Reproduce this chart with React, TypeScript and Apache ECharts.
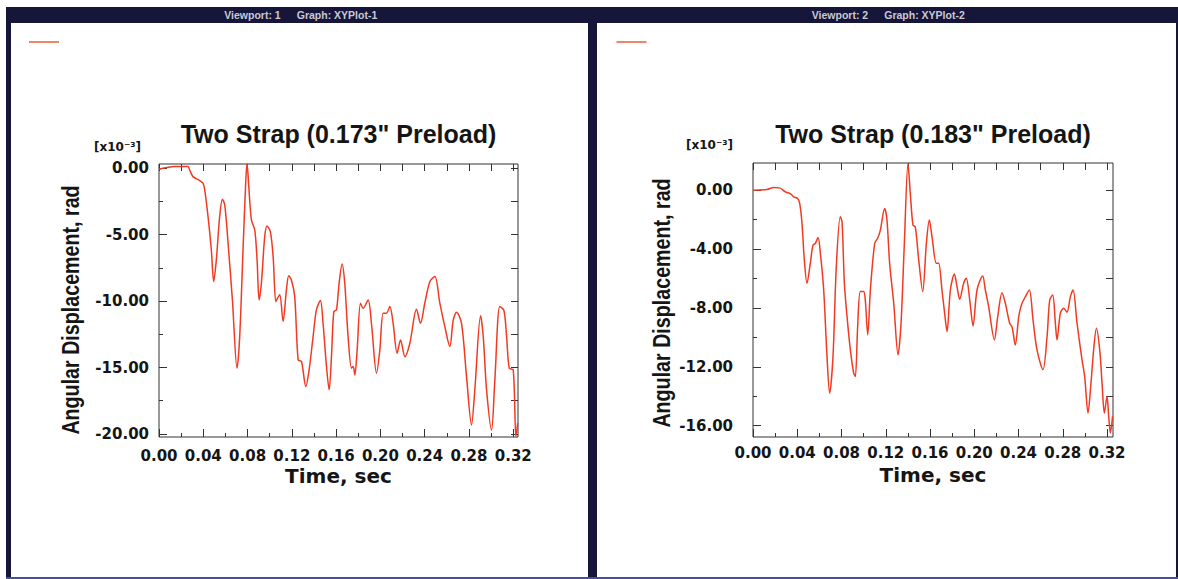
import React, { useEffect, useRef } from "react";
import * as echarts from "echarts";

// ---- Data (angles in x10^-3 rad) ----
const leftTime = [0, 0.0142, 0.0262, 0.0277, 0.0307, 0.0368, 0.0398, 0.0413, 0.0443, 0.0473, 0.0494, 0.0518, 0.0548, 0.0573, 0.0594, 0.0624, 0.0663, 0.0705, 0.0729, 0.0759, 0.0783, 0.0795, 0.0811, 0.0835, 0.0865, 0.0886, 0.0904, 0.0925, 0.0955, 0.0976, 0.1006, 0.1031, 0.1055, 0.107, 0.1091, 0.1121, 0.1151, 0.1172, 0.1196, 0.1226, 0.1257, 0.1287, 0.1326, 0.1356, 0.1392, 0.1422, 0.1458, 0.1482, 0.1513, 0.1537, 0.1558, 0.1579, 0.1603, 0.1627, 0.1654, 0.1678, 0.1708, 0.1739, 0.1754, 0.1769, 0.179, 0.182, 0.1844, 0.1889, 0.1919, 0.1965, 0.1995, 0.2025, 0.2055, 0.2085, 0.2115, 0.2151, 0.2182, 0.2221, 0.2266, 0.2326, 0.2362, 0.2401, 0.2447, 0.2492, 0.2537, 0.2582, 0.2627, 0.2658, 0.2688, 0.2733, 0.2778, 0.2823, 0.2853, 0.2905, 0.2929, 0.2959, 0.3004, 0.3034, 0.3079, 0.3116, 0.314, 0.3164, 0.32, 0.3224, 0.324];
const leftAngle = [-0.08, 0.13, 0.13, -0.13, -0.63, -0.93, -1.13, -1.63, -3.64, -6.15, -8.53, -6.9, -3.64, -2.33, -2.76, -5.65, -9.91, -15.05, -12.67, -6.15, -1.13, 0.38, -1.38, -3.89, -4.64, -6.9, -9.91, -8.66, -5.14, -4.34, -4.77, -6.65, -10.04, -9.79, -9.53, -11.54, -9.16, -8.1, -8.41, -9.66, -14.43, -14.55, -16.43, -15.18, -12.67, -10.66, -9.96, -11.67, -14.93, -16.68, -14.18, -10.79, -10.66, -8.66, -7.2, -8.66, -12.67, -15.05, -14.93, -15.56, -13.67, -10.16, -10.54, -9.91, -11.67, -15.43, -13.67, -10.91, -10.91, -10.41, -11.67, -13.92, -12.92, -14.18, -13.17, -10.61, -11.67, -10.16, -8.53, -8.15, -10.16, -11.92, -13.42, -11.42, -10.84, -11.67, -15.68, -19.32, -16.68, -11.11, -12.67, -16.68, -19.7, -15.93, -10.41, -10.71, -12.67, -15.05, -15.18, -20.2, -19.19];

const rightTime = [0, 0.0127, 0.0187, 0.0241, 0.0292, 0.0337, 0.0368, 0.0404, 0.0422, 0.0443, 0.0464, 0.0488, 0.0518, 0.0542, 0.0563, 0.0588, 0.0609, 0.0639, 0.0669, 0.0693, 0.0723, 0.0753, 0.0789, 0.0805, 0.0826, 0.085, 0.088, 0.091, 0.0925, 0.0946, 0.097, 0.1, 0.1015, 0.1037, 0.1061, 0.11, 0.113, 0.1151, 0.119, 0.1211, 0.1235, 0.1272, 0.1311, 0.1338, 0.1368, 0.1401, 0.1422, 0.1446, 0.1467, 0.1498, 0.1534, 0.1567, 0.1594, 0.1618, 0.1657, 0.1678, 0.1708, 0.1739, 0.1754, 0.1784, 0.182, 0.1844, 0.1868, 0.1904, 0.1928, 0.1959, 0.1989, 0.2025, 0.2076, 0.21, 0.213, 0.2182, 0.2212, 0.2251, 0.2281, 0.232, 0.2341, 0.2371, 0.2402, 0.2426, 0.2462, 0.2498, 0.2531, 0.2567, 0.2621, 0.2658, 0.2682, 0.2709, 0.2733, 0.2748, 0.2778, 0.2808, 0.2838, 0.2869, 0.2893, 0.2929, 0.2974, 0.2998, 0.3028, 0.3055, 0.3079, 0.3104, 0.3134, 0.3155, 0.3176, 0.32, 0.3215, 0.323, 0.325];
const rightAngle = [0, 0.05, 0.18, 0.16, -0.11, -0.23, -0.45, -0.57, -0.9, -2.26, -4.75, -6.33, -4.97, -3.73, -3.62, -3.21, -4.29, -6.78, -11.3, -13.79, -11.3, -5.2, -1.81, -2.15, -6.33, -8.59, -10.85, -12.43, -12.66, -9.27, -6.89, -6.89, -7.46, -9.83, -6.78, -3.62, -3.21, -2.71, -1.24, -2.03, -4.97, -7.68, -11.19, -9.04, -3.62, 1.81, -0.23, -2.37, -2.49, -4.75, -6.89, -3.62, -2.03, -3.16, -4.97, -4.97, -6.78, -8.81, -9.61, -6.78, -5.7, -6.55, -7.41, -6.33, -5.99, -7.46, -9.22, -6.78, -5.83, -6.78, -7.91, -10.17, -8.59, -6.96, -7.68, -9.04, -9.27, -10.51, -8.59, -7.8, -7.23, -6.78, -8.81, -10.85, -12.2, -9.94, -7.46, -7.12, -9.04, -10.17, -8.36, -8.02, -8.29, -7.23, -6.78, -9.04, -11.53, -12.66, -15.14, -13.11, -10.85, -9.38, -10.85, -13.11, -15.14, -14.01, -15.37, -16.5, -15.37];

// ---- Tick labels / tick positions ----
const xMajorTicks = [0, 0.04, 0.08, 0.12, 0.16, 0.2, 0.24, 0.28, 0.32];
const xMinorTicks = [0.02, 0.06, 0.1, 0.14, 0.18, 0.22, 0.26, 0.3];
const leftYMajor = [-20, -15, -10, -5, 0];
const leftYMinor = [-17.5, -12.5, -7.5, -2.5];
const rightYMajor = [-16, -12, -8, -4, 0];
const rightYMinor = [-14, -10, -6, -2];

const panelTitles = ['Two Strap (0.173" Preload)', 'Two Strap (0.183" Preload)'];
const viewportLabels = ["Viewport: 1", "Viewport: 2"];
const graphLabels = ["Graph: XYPlot-1", "Graph: XYPlot-2"];
const xAxisName = "Time, sec";
const yAxisName = "Angular Displacement, rad";
const scaleNote = "[x10\u207B\u00B3]";

const INK = "#151515";
const LINE = "#f23a22";
const FRAME = "#16163a";
const TICKFONT = "DejaVu Sans";

type Panel = {
  grid: { left: number; top: number; width: number; height: number };
  xMax: number;
  yMin: number;
  yMax: number;
  yMajor: number[];
  yMinor: number[];
  yLabelMargin: number;
  xLabelMargin: number;
  xNameGap: number;
};

const panels: Panel[] = [
  { grid: { left: 159, top: 164, width: 359, height: 273 }, xMax: 0.3243, yMin: -20.23, yMax: 0.32, yMajor: leftYMajor, yMinor: leftYMinor, yLabelMargin: 10, xLabelMargin: 11, xNameGap: 29 },
  { grid: { left: 753, top: 163, width: 360, height: 274 }, xMax: 0.3254, yMin: -16.77, yMax: 1.85, yMajor: rightYMajor, yMinor: rightYMinor, yLabelMargin: 20, xLabelMargin: 8, xNameGap: 28 },
];

const tickLine = { color: "#333", width: 1 };
const labelStyle = { fontFamily: TICKFONT, fontWeight: "bold" as const, fontSize: 15, color: INK };

function buildAxes(p: Panel, gi: number) {
  const allX = [...xMajorTicks, ...xMinorTicks].sort((a, b) => a - b);
  const allY = [...p.yMajor, ...p.yMinor].sort((a, b) => a - b);
  const hiddenLine = { show: false, onZero: false };
  const xBase = { gridIndex: gi, type: "value" as const, min: 0, max: p.xMax, splitLine: { show: false }, axisLine: hiddenLine };
  const yBase = { gridIndex: gi, type: "value" as const, min: p.yMin, max: p.yMax, splitLine: { show: false }, axisLine: hiddenLine };
  const xAxes = [
    {
      ...xBase,
      position: "bottom",
      axisTick: { show: true, inside: true, length: 8, customValues: xMajorTicks, lineStyle: tickLine },
      axisLabel: { show: true, customValues: xMajorTicks, margin: p.xLabelMargin, formatter: (v: number) => v.toFixed(2), ...labelStyle },
      name: xAxisName,
      nameLocation: "middle",
      nameGap: p.xNameGap,
      nameTextStyle: { fontFamily: TICKFONT, fontWeight: "bold", fontSize: 20, color: INK, verticalAlign: "top" },
    },
    { ...xBase, position: "bottom", axisLabel: { show: false }, axisTick: { show: true, inside: true, length: 4, customValues: xMinorTicks, lineStyle: tickLine } },
    { ...xBase, position: "top", axisLabel: { show: false }, axisTick: { show: true, inside: true, length: 7, customValues: allX, lineStyle: tickLine } },
  ];
  const yAxes = [
    {
      ...yBase,
      position: "left",
      axisTick: { show: true, inside: true, length: 8, customValues: p.yMajor, lineStyle: tickLine },
      axisLabel: { show: true, customValues: p.yMajor, margin: p.yLabelMargin, formatter: (v: number) => v.toFixed(2), ...labelStyle },
    },
    { ...yBase, position: "left", axisLabel: { show: false }, axisTick: { show: true, inside: true, length: 4, customValues: p.yMinor, lineStyle: tickLine } },
    { ...yBase, position: "right", axisLabel: { show: false }, axisTick: { show: true, inside: true, length: 7, customValues: allY, lineStyle: tickLine } },
  ];
  return { xAxes, yAxes };
}

function zip(t: number[], v: number[]) {
  return t.map((x, i) => [x, v[i]]);
}

export default function App() {
  const ref = useRef<HTMLDivElement>(null);
  useEffect(() => {
    if (!ref.current) return;
    const chart = echarts.init(ref.current, undefined, { renderer: "svg" });

    const grids: any[] = [];
    const xAxis: any[] = [];
    const yAxis: any[] = [];
    panels.forEach((p, gi) => {
      grids.push({ ...p.grid, show: true, borderColor: "#333", borderWidth: 1, backgroundColor: "transparent", containLabel: false, outerBoundsMode: "none" });
      const { xAxes, yAxes } = buildAxes(p, gi);
      xAxis.push(...xAxes);
      yAxis.push(...yAxes);
    });

    const datasets = [zip(leftTime, leftAngle), zip(rightTime, rightAngle)];
    const series = datasets.map((d, i) => ({
      type: "line",
      xAxisIndex: i * 3,
      yAxisIndex: i * 3,
      data: d,
      showSymbol: false,
      smooth: 0.3,
      lineStyle: { color: LINE, width: 1.5 },
      itemStyle: { color: LINE },
      clip: true,
    }));

    const txt = (text: string, x: number, y: number, size: number, opts: any = {}) => ({
      type: "text",
      x,
      y,
      rotation: opts.rotation || 0,
      scaleX: opts.scaleX || 1,
      scaleY: opts.scaleY || 1,
      z: 10,
      style: {
        text,
        fill: opts.fill || INK,
        fontSize: size,
        fontFamily: opts.family || "Liberation Sans",
        fontWeight: opts.weight || "bold",
        align: "center",
        verticalAlign: "middle",
      },
    });

    const offsets = [0, 587.5];
    const graphic: any[] = [
      { type: "rect", shape: { x: 6, y: 7, width: 1172, height: 16 }, style: { fill: FRAME } },
      { type: "rect", shape: { x: 6, y: 7, width: 5, height: 572 }, style: { fill: FRAME } },
      { type: "rect", shape: { x: 588, y: 7, width: 9, height: 572 }, style: { fill: FRAME } },
      { type: "rect", shape: { x: 1176, y: 7, width: 2, height: 572 }, style: { fill: FRAME } },
      { type: "rect", shape: { x: 6, y: 577, width: 1172, height: 2 }, style: { fill: "#4c4c9c" } },
    ];
    offsets.forEach((dx, i) => {
      graphic.push(txt(viewportLabels[i], 252.5 + dx, 15, 10.5, { fill: "#c9c9d6" }));
      graphic.push(txt(graphLabels[i], 337 + dx, 15, 10.5, { fill: "#c9c9d6" }));
      graphic.push({ type: "line", shape: { x1: 29 + dx, y1: 42, x2: 59 + dx, y2: 42 }, style: { stroke: "#f08566", lineWidth: 2 } });
      const g = panels[i].grid;
      graphic.push(txt(panelTitles[i], g.left + g.width / 2, 133.5, 25));
    });
    graphic.push(txt(scaleNote, 117.5, 147, 12, { family: TICKFONT }));
    graphic.push(txt(scaleNote, 709.5, 145, 12, { family: TICKFONT }));
    graphic.push(txt(yAxisName, 70.5, 310, 24, { rotation: Math.PI / 2, scaleX: 0.82, weight: "bold" }));
    graphic.push(txt(yAxisName, 661.5, 303, 24, { rotation: Math.PI / 2, scaleX: 0.82, weight: "bold" }));

    chart.setOption({
      animation: false,
      backgroundColor: "#ffffff",
      grid: grids,
      xAxis,
      yAxis,
      series,
      graphic,
    });
    return () => chart.dispose();
  }, []);
  return <div ref={ref} style={{ position: "absolute", left: 0, top: 0, width: 1178, height: 579 }} />;
}
